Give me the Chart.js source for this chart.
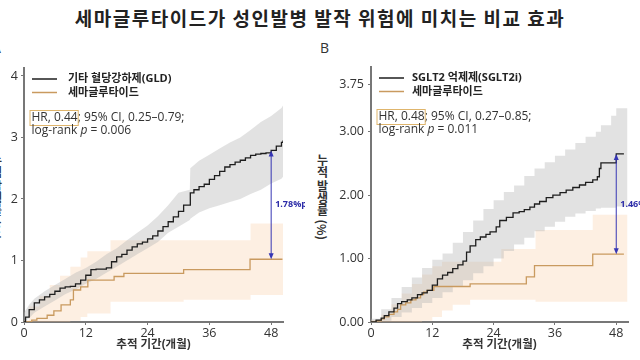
<!DOCTYPE html>
<html>
<head>
<meta charset="utf-8">
<script src="https://cdn.jsdelivr.net/npm/chart.js@4.4.0/dist/chart.umd.min.js"></script>
<style>
  html, body { margin: 0; padding: 0; width: 640px; height: 360px; overflow: hidden; background: #fff; }
  body { position: relative; font-family: 'Open Sans', 'Noto Sans CJK KR', sans-serif; }
  #title { position: absolute; left: 0; top: 4px; width: 640px; text-align: center; letter-spacing: 1.5px;
           font: bold 19px 'Noto Sans CJK KR', sans-serif; color: #222; }
  .tag { position: absolute; font-size: 14px; line-height: 14px; color: #333; }
  .ytitle { position: absolute; writing-mode: vertical-rl; font: bold 12px/12px 'Noto Sans CJK KR', sans-serif;
            color: #333; top: 154px; }
  canvas { position: absolute; top: 40px; }
</style>
</head>
<body>
<div id="title">세마글루타이드가 성인발병 발작 위험에 미치는 비교 효과</div>
<div class="tag" style="left:-8px; top:41px">A</div>
<div class="tag" style="left:320px; top:41px">B</div>
<div class="ytitle" style="left:-10px">누적 발생률 (%)</div>
<div class="ytitle" style="left:316px">누적 발생률 (%)</div>
<canvas id="chartA" width="345" height="320" style="left:-40px"></canvas>
<canvas id="chartB" width="360" height="320" style="left:296px"></canvas>
<script>
const FONT = "'Open Sans', 'Noto Sans CJK KR', sans-serif";

const xTicks = [0, 12, 24, 36, 48];
const yTicksA = [0, 1, 2, 3, 4];
const yTicksB = [0, 1, 2, 3, 3.75];

// Panel A: other glucose-lowering drugs (GLD) vs semaglutide
const tGldA = [0, 0.3, 1, 2, 3, 4, 5, 6, 7, 8, 9, 10, 11, 12, 13, 14, 15, 16, 17, 18, 19, 20, 21, 22, 23, 24, 25, 26, 27, 28,
  29, 30, 31, 32.3, 33, 34, 35, 36, 37, 38, 39, 40, 41, 42, 43, 44, 45, 46, 47, 48, 49, 50, 50.3];
const vGldA = [0, 0.08, 0.2, 0.31, 0.36, 0.41, 0.45, 0.5, 0.55, 0.57, 0.58, 0.62, 0.68, 0.76, 0.85, 0.86, 0.86, 0.88, 0.98, 1.06,
  1.1, 1.17, 1.22, 1.27, 1.3, 1.35, 1.4, 1.48, 1.55, 1.63, 1.71, 1.8, 1.9, 2.1, 2.15, 2.2, 2.24, 2.32, 2.38, 2.45,
  2.52, 2.56, 2.6, 2.63, 2.67, 2.71, 2.73, 2.74, 2.75, 2.79, 2.86, 2.92, 2.95];
const tBandGldA = [0, 1, 2, 4, 6, 8, 10, 12, 14, 16, 18, 20, 22, 24, 26, 28, 30, 32.2, 32.3, 34, 36, 38, 40, 42, 44, 46, 48, 50, 50.3];
const upGldA = [0.15, 0.28, 0.38, 0.5, 0.6, 0.7, 0.8, 0.88, 0.98, 1.1, 1.2, 1.33, 1.45, 1.57, 1.72, 1.9, 2.1, 2.15, 2.5, 2.62, 2.72,
  2.82, 2.92, 3.0, 3.12, 3.25, 3.35, 3.48, 3.52];
const loGldA = [0, 0.06, 0.15, 0.25, 0.35, 0.45, 0.53, 0.62, 0.7, 0.8, 0.9, 1.0, 1.1, 1.2, 1.3, 1.45, 1.55, 1.66, 1.68, 1.78, 1.85,
  1.9, 1.95, 2.0, 2.08, 2.15, 2.25, 2.33, 2.36];
const tSemaA = [0, 1.5, 2.5, 4.5, 5.8, 7.2, 9, 9.6, 11, 12.4, 17.5, 19.4, 31, 43.9, 50.2];
const vSemaA = [0, 0.03, 0.06, 0.11, 0.18, 0.28, 0.36, 0.52, 0.57, 0.68, 0.74, 0.79, 0.85, 1.02, 1.02];
const tBandSemaA = [0, 1, 3, 5, 7, 9, 11, 12.3, 16.8, 31, 44, 50.3];
const upSemaA = [0.03, 0.25, 0.42, 0.6, 0.75, 0.9, 1.05, 1.15, 1.33, 1.33, 1.6, 1.6];
const loSemaA = [0, 0, 0, 0, 0, 0.02, 0.08, 0.14, 0.33, 0.36, 0.44, 0.44];

// Panel B: SGLT2 inhibitors vs semaglutide
const tSgltB = [0, 1, 2, 2.6, 3.5, 4.5, 5.2, 6, 7.1, 8, 9.1, 10, 11, 12, 13, 14, 15, 16, 17, 18, 18.7, 19.4, 20.5, 21.4, 22.5,
  23.3, 24.5, 25.2, 26.5, 27.8, 29, 30, 31.1, 32, 33, 34.3, 35.6, 37, 38.2, 39.5, 40.8, 42, 43.4, 44.3, 44.7, 45, 48, 49.5];
const vSgltB = [0, 0.03, 0.06, 0.1, 0.16, 0.22, 0.29, 0.32, 0.35, 0.38, 0.43, 0.46, 0.5, 0.58, 0.68, 0.74, 0.78, 0.84, 0.9, 0.96,
  1.1, 1.2, 1.3, 1.34, 1.38, 1.42, 1.5, 1.6, 1.65, 1.72, 1.74, 1.77, 1.81, 1.86, 1.9, 1.96, 2.0, 2.04, 2.08, 2.12,
  2.16, 2.2, 2.24, 2.29, 2.42, 2.51, 2.65, 2.65];
const tBandSgltB = [0, 2, 4, 6, 8, 10, 12, 14, 16, 18, 20, 22, 24, 26, 28, 30, 32, 34, 36, 38, 40, 42, 44, 45, 47, 48, 50.2];
const upSgltB = [0.05, 0.2, 0.38, 0.55, 0.7, 0.85, 0.98, 1.08, 1.25, 1.42, 1.6, 1.78, 1.92, 2.05, 2.15, 2.3, 2.42, 2.52, 2.62, 2.72,
  2.82, 2.92, 3.0, 3.1, 3.25, 3.37, 3.37];
const loSgltB = [0, 0.02, 0.08, 0.15, 0.22, 0.3, 0.38, 0.47, 0.56, 0.66, 0.77, 0.88, 1.0, 1.12, 1.22, 1.33, 1.43, 1.5, 1.58, 1.66,
  1.71, 1.75, 1.79, 1.8, 1.8, 1.82, 1.82];
const tSemaB = [0, 1, 2, 2.6, 3.5, 4.5, 5.2, 5.8, 6.8, 7.8, 8.8, 9.7, 10.3, 11, 12.3, 19.4, 30.4, 32, 43.4, 49.5];
const vSemaB = [0, 0.02, 0.05, 0.08, 0.12, 0.16, 0.2, 0.27, 0.3, 0.35, 0.38, 0.43, 0.47, 0.5, 0.56, 0.6, 0.71, 0.89, 1.07, 1.07];
const tBandSemaB = [0, 2, 4, 6, 8, 10, 12, 13.9, 16, 19.4, 25.5, 32.2, 43.4, 50.2];
const upSemaB = [0.03, 0.12, 0.28, 0.45, 0.6, 0.75, 0.88, 0.95, 0.95, 0.95, 1.15, 1.45, 1.69, 1.69];
const loSemaB = [0, 0, 0, 0, 0, 0.02, 0.08, 0.18, 0.27, 0.35, 0.35, 0.32, 0.32, 0.32];

// difference arrows at 48 months
const arrowA = { x: 48, from: 1.02, to: 2.79, label: '1.78%p' };
const arrowB = { x: 48, from: 1.07, to: 2.65, label: '1.46%p' };

const BLACK = '#1e1e1e';
const ORANGE = '#c99a5f';
const GRAY_FILL = 'rgba(180,180,180,0.38)';
const PEACH_FILL = 'rgba(248,196,150,0.28)';
const CLEAR = 'rgba(0,0,0,0)';

Chart.defaults.font.family = FONT;

function pts(ts, vs) {
  return ts.map((t, i) => ({ x: t, y: vs[i] }));
}

function curve(ts, vs, color) {
  return { data: pts(ts, vs), borderColor: color, borderWidth: 1.3, stepped: true, pointRadius: 0, fill: false };
}

function band(ts, up, lo, color, stepped) {
  return [
    { data: pts(ts, up), borderColor: CLEAR, borderWidth: 0, stepped: stepped, pointRadius: 0, fill: '+1', backgroundColor: color },
    { data: pts(ts, lo), borderColor: CLEAR, borderWidth: 0, stepped: stepped, pointRadius: 0, fill: false }
  ];
}

// legend, HR text and the difference arrow, drawn inside the plot
function overlay(cfg) {
  return {
    id: 'overlay',
    afterDatasetsDraw(chart) {
      const { ctx, chartArea: area, scales: { x, y } } = chart;
      ctx.save();
      ctx.textBaseline = 'middle';
      ctx.textAlign = 'left';
      cfg.legend.forEach((item, i) => {
        const ly = area.top + 11 + i * 13.5;
        ctx.strokeStyle = item.color;
        ctx.lineWidth = 1.5;
        ctx.beginPath();
        ctx.moveTo(area.left + 8, ly);
        ctx.lineTo(area.left + 33, ly);
        ctx.stroke();
        ctx.fillStyle = '#222';
        ctx.font = 'bold 11px ' + FONT;
        ctx.fillText(item.text, area.left + cfg.legendGap, ly);
      });

      // HR line with box
      const tx = area.left + 7.5;
      const hy = area.top + 50;
      ctx.font = '12px ' + FONT;
      ctx.fillStyle = '#333';
      const hrW = ctx.measureText(cfg.hr).width;
      ctx.fillText(cfg.hr, tx, hy);
      ctx.fillText(cfg.ci, tx + hrW, hy);
      ctx.strokeStyle = '#dfb56c';
      ctx.lineWidth = 1;
      ctx.strokeRect(tx - 1.5, hy - 7.5, hrW + 2, 15);

      // log-rank line with italic p
      const py = hy + 13;
      let cx = tx;
      ctx.fillText('log-rank ', cx, py);
      cx += ctx.measureText('log-rank ').width;
      ctx.font = 'italic 12px ' + FONT;
      ctx.fillText('p', cx, py);
      cx += ctx.measureText('p').width;
      ctx.font = '12px ' + FONT;
      ctx.fillText(' = ' + cfg.p, cx, py);

      // arrow
      const a = cfg.arrow;
      const ax = x.getPixelForValue(a.x);
      const y1 = y.getPixelForValue(a.from);
      const y2 = y.getPixelForValue(a.to);
      ctx.strokeStyle = '#3636b4';
      ctx.fillStyle = '#3636b4';
      ctx.lineWidth = 1;
      ctx.beginPath();
      ctx.moveTo(ax, y2 + 4);
      ctx.lineTo(ax, y1 - 4);
      ctx.stroke();
      ctx.beginPath();
      ctx.moveTo(ax, y2);
      ctx.lineTo(ax - 2.5, y2 + 6);
      ctx.lineTo(ax + 2.5, y2 + 6);
      ctx.closePath();
      ctx.fill();
      ctx.beginPath();
      ctx.moveTo(ax, y1);
      ctx.lineTo(ax - 2.5, y1 - 6);
      ctx.lineTo(ax + 2.5, y1 - 6);
      ctx.closePath();
      ctx.fill();
      ctx.fillStyle = '#2c2ca8';
      ctx.font = 'bold 9px ' + FONT;
      ctx.fillText(a.label, ax + 4, (y1 + y2) / 2);
      ctx.restore();
    }
  };
}

function scales(yMax, yTicks, fmt, yWidth, yPad) {
  return {
    x: {
      type: 'linear', min: 0, max: 50.3,
      afterBuildTicks: s => { s.ticks = xTicks.map(v => ({ value: v })); },
      afterFit: s => { s.height = 38; },
      ticks: { color: '#333', font: { size: 12.5 }, padding: 1, maxRotation: 0, autoSkip: false },
      grid: { display: true, drawOnChartArea: false, drawTicks: true, tickLength: 3, color: '#777' },
      border: { display: true, color: '#777', width: 2 },
      title: { display: true, text: '추적 기간(개월)', color: '#333',
               font: { size: 11.5, weight: 'bold' }, padding: { top: 0, bottom: 8 } }
    },
    y: {
      type: 'linear', min: 0, max: yMax,
      afterBuildTicks: s => { s.ticks = yTicks.map(v => ({ value: v })); },
      afterFit: s => { s.width = yWidth; },
      ticks: { color: '#333', font: { size: 12.5 }, padding: yPad, callback: v => fmt(v), autoSkip: false },
      grid: { display: true, drawOnChartArea: false, drawTicks: true, tickLength: 3, color: '#777' },
      border: { display: true, color: '#777', width: 2 }
    }
  };
}

function makeChart(id, sets, sc, pad, cfg) {
  return new Chart(document.getElementById(id), {
    type: 'line',
    data: { datasets: sets },
    options: {
      responsive: false,
      animation: false,
      devicePixelRatio: 1,
      layout: { padding: pad },
      scales: sc,
      plugins: { legend: { display: false }, tooltip: { enabled: false } }
    },
    plugins: [overlay(cfg)]
  });
}

makeChart('chartA',
  [curve(tGldA, vGldA, BLACK), curve(tSemaA, vSemaA, ORANGE),
   ...band(tBandGldA, upGldA, loGldA, GRAY_FILL, false), ...band(tBandSemaA, upSemaA, loSemaA, PEACH_FILL, true)],
  scales(4.13, yTicksA, v => String(v), 64, 3),
  { top: 28, right: 22, left: 0, bottom: 0 },
  { legend: [{ text: '기타 혈당강하제(GLD)', color: BLACK }, { text: '세마글루타이드', color: ORANGE }],
    legendGap: 44, hr: 'HR, 0.44', ci: '; 95% CI, 0.25–0.79;', p: '0.006', arrow: arrowA });

makeChart('chartB',
  [curve(tSgltB, vSgltB, BLACK), curve(tSemaB, vSemaB, ORANGE),
   ...band(tBandSgltB, upSgltB, loSgltB, GRAY_FILL, true), ...band(tBandSemaB, upSemaB, loSemaB, PEACH_FILL, true)],
  scales(4.02, yTicksB, v => v.toFixed(2), 75, 4),
  { top: 27, right: 28, left: 0, bottom: 0 },
  { legend: [{ text: 'SGLT2 억제제(SGLT2i)', color: BLACK }, { text: '세마글루타이드', color: ORANGE }],
    legendGap: 41, hr: 'HR, 0.48', ci: '; 95% CI, 0.27–0.85;', p: '0.011', arrow: arrowB });
</script>
</body>
</html>
